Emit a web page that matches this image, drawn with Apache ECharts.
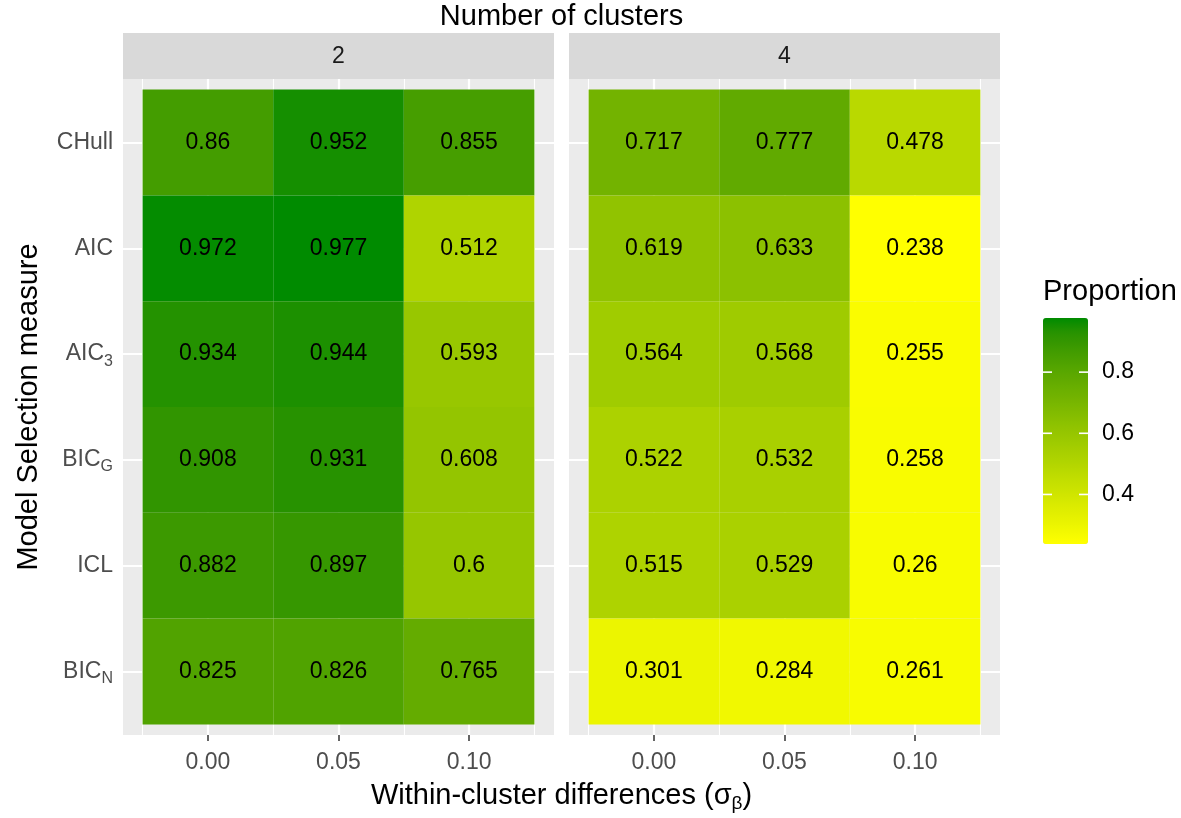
<!DOCTYPE html>
<html>
<head>
<meta charset="utf-8">
<style>
  html, body { margin: 0; padding: 0; background: #fff; }
  #main { width: 1181px; height: 818px; }
</style>
<script src="https://cdn.jsdelivr.net/npm/echarts@6/dist/echarts.min.js"></script>
</head>
<body>
<div id="main"></div>
<script>
// data
var sigmas = [0.00, 0.05, 0.10];
var measures = ['CHull', 'AIC', 'AIC3', 'BICG', 'ICL', 'BICN'];
var measureLabels = ['CHull', 'AIC', 'AIC{sub|3}', 'BIC{sub|G}', 'ICL', 'BIC{sub|N}'];
var clusters2 = [
  [0.86, 0.952, 0.855],
  [0.972, 0.977, 0.512],
  [0.934, 0.944, 0.593],
  [0.908, 0.931, 0.608],
  [0.882, 0.897, 0.6],
  [0.825, 0.826, 0.765]
];
var clusters4 = [
  [0.717, 0.777, 0.478],
  [0.619, 0.633, 0.238],
  [0.564, 0.568, 0.255],
  [0.522, 0.532, 0.258],
  [0.515, 0.529, 0.26],
  [0.301, 0.284, 0.261]
];
var legendTicks = [0.4, 0.6, 0.8];
var panelNames = ['2', '4'];

var FONT = '"Liberation Sans", Arial, sans-serif';
var BIG = 29, SMALL = 23;

// colour ramp yellow -> green4 interpolated in CIELAB like ggplot
function toLab(hex) {
  var c = [1, 3, 5].map(function (i) {
    var v = parseInt(hex.substr(i, 2), 16) / 255;
    return v <= 0.04045 ? v / 12.92 : Math.pow((v + 0.055) / 1.055, 2.4);
  });
  var X = (0.4124 * c[0] + 0.3576 * c[1] + 0.1805 * c[2]) / 0.95047;
  var Y = 0.2126 * c[0] + 0.7152 * c[1] + 0.0722 * c[2];
  var Z = (0.0193 * c[0] + 0.1192 * c[1] + 0.9505 * c[2]) / 1.08883;
  var f = function (t) { return t > 0.008856 ? Math.cbrt(t) : 7.787 * t + 16 / 116; };
  return [116 * f(Y) - 16, 500 * (f(X) - f(Y)), 200 * (f(Y) - f(Z))];
}
function fromLab(lab) {
  var fy = (lab[0] + 16) / 116, fx = fy + lab[1] / 500, fz = fy - lab[2] / 200;
  var inv = function (t) { return t * t * t > 0.008856 ? t * t * t : (t - 16 / 116) / 7.787; };
  var X = inv(fx) * 0.95047, Y = inv(fy), Z = inv(fz) * 1.08883;
  var r = 3.2406 * X - 1.5372 * Y - 0.4986 * Z;
  var g = -0.9689 * X + 1.8758 * Y + 0.0415 * Z;
  var b = 0.0557 * X - 0.2040 * Y + 1.0570 * Z;
  return 'rgb(' + [r, g, b].map(function (v) {
    v = v <= 0.0031308 ? 12.92 * v : 1.055 * Math.pow(v, 1 / 2.4) - 0.055;
    return Math.round(Math.max(0, Math.min(1, v)) * 255);
  }).join(',') + ')';
}
var lowLab = toLab('#FFFF00'), highLab = toLab('#008B00');
var ramp = [];
for (var i = 0; i <= 16; i++) {
  var t = i / 16;
  ramp.push(fromLab([0, 1, 2].map(function (k) { return lowLab[k] + (highLab[k] - lowLab[k]) * t; })));
}

function toData(table) {
  var out = [];
  table.forEach(function (row, r) {
    row.forEach(function (v, c) { out.push([sigmas[c], r + 1, v]); });
  });
  return out;
}

var allVals = clusters2.concat(clusters4).reduce(function (a, b) { return a.concat(b); }, []);
var vMin = Math.min.apply(null, allVals), vMax = Math.max.apply(null, allVals);

function renderTile(params, api) {
  var x = api.value(0), y = api.value(1);
  var p0 = api.coord([x - 0.025, y - 0.5]);
  var p1 = api.coord([x + 0.025, y + 0.5]);
  return {
    type: 'rect',
    shape: {
      x: Math.min(p0[0], p1[0]), y: Math.min(p0[1], p1[1]),
      width: Math.abs(p1[0] - p0[0]), height: Math.abs(p1[1] - p0[1])
    },
    style: { fill: api.visual('color') },
    textContent: {
      style: { text: String(api.value(2)), fontSize: SMALL, fontFamily: FONT, fill: '#000' }
    },
    textConfig: { position: 'inside' }
  };
}

// white tick marks on both sides of the colour bar
function renderLegendTick(params, api) {
  var cs = params.coordSys;
  var y = api.coord([0, api.value(0)])[1];
  var len = 9;
  var st = { stroke: '#fff', lineWidth: 1.6 };
  return {
    type: 'group',
    children: [
      { type: 'line', shape: { x1: cs.x, y1: y, x2: cs.x + len, y2: y }, style: st },
      { type: 'line', shape: { x1: cs.x + cs.width - len, y1: y, x2: cs.x + cs.width, y2: y }, style: st }
    ]
  };
}

var grids = [
  { left: 123, top: 79, width: 431, height: 656 },
  { left: 569, top: 79, width: 431, height: 656 }
];
var panelsMid = (grids[0].left + grids[1].left + grids[1].width) / 2;

var xAxes = [], yAxes = [];
grids.forEach(function (g, gi) {
  xAxes.push({
    type: 'value', gridIndex: gi, min: -0.0325, max: 0.1325,
    axisLine: { show: false },
    axisTick: { customValues: sigmas, length: 6, lineStyle: { color: '#333', width: 1.5 } },
    axisLabel: { customValues: sigmas, formatter: function (v) { return v.toFixed(2); },
      fontSize: SMALL, fontFamily: FONT, color: '#4D4D4D', margin: 16 },
    splitLine: { lineStyle: { color: '#fff', width: 2.2 } }
  });
  xAxes.push({
    type: 'value', gridIndex: gi, min: -0.0325, max: 0.1325,
    axisLine: { show: false },
    axisTick: { show: false, customValues: [-0.025, 0.025, 0.075, 0.125] },
    axisLabel: { show: false, customValues: [-0.025, 0.025, 0.075, 0.125] },
    splitLine: { lineStyle: { color: '#fff', width: 1.1 } }
  });
  yAxes.push({
    type: 'value', gridIndex: gi, min: 0.4, max: 6.6, inverse: true,
    name: gi === 0 ? 'Model Selection measure' : '',
    nameLocation: 'middle', nameGap: 80, nameRotate: 90,
    nameTextStyle: { fontSize: BIG, fontFamily: FONT, color: '#000' },
    axisLine: { show: false },
    axisTick: { show: gi === 0, customValues: [1, 2, 3, 4, 5, 6], length: 6,
      lineStyle: { color: '#333', width: 1.5 } },
    axisLabel: {
      show: gi === 0, customValues: [1, 2, 3, 4, 5, 6], margin: 10,
      fontSize: SMALL, fontFamily: FONT, color: '#4D4D4D',
      formatter: function (v) { return measureLabels[v - 1]; },
      rich: { sub: { fontSize: 16, fontFamily: FONT, color: '#4D4D4D', padding: [14, 0, 0, 0] } }
    },
    splitLine: { lineStyle: { color: '#fff', width: 2.2 } }
  });
});

// legend colour bar axes
xAxes.push({ type: 'value', gridIndex: 2, show: false, min: 0, max: 1 });
yAxes.push({
  type: 'value', gridIndex: 2, position: 'right', min: vMin, max: vMax, z: 10,
  axisLine: { show: false },
  axisTick: { show: false, customValues: legendTicks },
  axisLabel: { customValues: legendTicks, margin: 14, fontSize: SMALL,
    fontFamily: FONT, color: '#000', formatter: function (v) { return String(v); } },
  splitLine: { show: false }
});

var option = {
  animation: false,
  backgroundColor: '#fff',
  textStyle: { fontFamily: FONT },
  title: [
    { text: 'Proportion', left: 1043, top: 277, padding: 0,
      textStyle: { fontSize: BIG, fontWeight: 'normal', color: '#000', fontFamily: FONT } }
  ],
  graphic: grids.map(function (g) {
    return { type: 'rect', left: g.left, top: 33, z: 1,
      shape: { width: g.width, height: 46 }, style: { fill: '#D9D9D9' } };
  }).concat(grids.map(function (g, gi) {
    return { type: 'text', x: g.left + g.width / 2, y: 57, z: 2,
      style: { text: panelNames[gi], fontSize: SMALL, fontFamily: FONT, fill: '#1A1A1A',
        textAlign: 'center', textVerticalAlign: 'middle' } };
  })).concat([
    { type: 'text', x: panelsMid, y: 17, z: 2,
      style: { text: 'Number of clusters', fontSize: BIG, fontFamily: FONT, fill: '#000',
        textAlign: 'center', textVerticalAlign: 'middle' } },
    { type: 'text', x: panelsMid, y: 796, z: 2,
      style: { text: 'Within-cluster differences (σ{sub|β})', fontSize: BIG, fontFamily: FONT, fill: '#000',
        textAlign: 'center', textVerticalAlign: 'middle',
        rich: { sub: { fontSize: 19, fontFamily: FONT, fill: '#000', padding: [16, 0, 0, 0] } } } }
  ]),
  grid: grids.map(function (g) {
    return { left: g.left, top: g.top, width: g.width, height: g.height,
      show: true, backgroundColor: '#EBEBEB', borderWidth: 0 };
  }).concat([{ left: 1043, top: 318, width: 45, height: 226, show: false }]),
  xAxis: xAxes,
  yAxis: yAxes,
  visualMap: {
    type: 'continuous', min: vMin, max: vMax, dimension: 2, seriesIndex: [0, 1],
    left: 1043, top: 318, itemWidth: 45, itemHeight: 226, padding: 0,
    calculable: false, text: null, showLabel: false,
    inRange: { color: ramp }
  },
  series: [
    { type: 'custom', xAxisIndex: 0, yAxisIndex: 0, data: toData(clusters2), renderItem: renderTile },
    { type: 'custom', xAxisIndex: 2, yAxisIndex: 1, data: toData(clusters4), renderItem: renderTile },
    { type: 'custom', xAxisIndex: 4, yAxisIndex: 2, z: 10, silent: true,
      data: legendTicks.map(function (v) { return [v]; }),
      encode: { y: 0 }, renderItem: renderLegendTick }
  ]
};

var myChart = echarts.init(document.getElementById('main'));
myChart.setOption(option);
</script>
</body>
</html>
